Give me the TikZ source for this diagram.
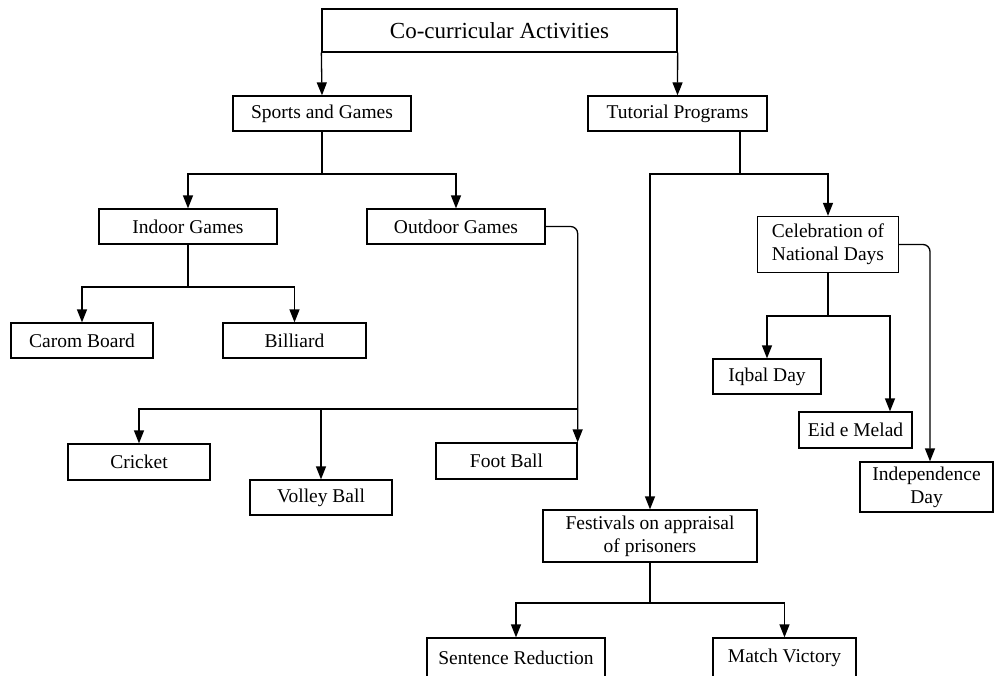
\documentclass[tikz,border=0pt]{standalone}
\usepackage{fontspec}
\setmainfont{Liberation Serif}
\usetikzlibrary{arrows.meta}
\begin{document}
\begin{tikzpicture}[x=1pt,y=-1pt,
  box/.style={draw,line width=1.3pt,inner sep=0pt,align=center,font=\fontsize{19.5}{23}\selectfont},
  arr/.style={line width=1.3pt,-{Triangle[length=13pt,width=10pt]}},
  ln/.style={line width=1.3pt}]
\clip (0,0) rectangle (995,675);
\fill[white] (0,0) rectangle (995,675);
% nodes
\node[box,minimum width=355pt,minimum height=43pt,font=\fontsize{23}{27}\selectfont] (ca) at (499.5,30.5) {Co-curricular Activities};
\node[box,minimum width=178pt,minimum height=35pt] (sg) at (322,113.5) {Sports and Games};
\node[box,minimum width=179pt,minimum height=35pt] (tp) at (677.5,113.5) {Tutorial Programs};
\node[box,minimum width=178pt,minimum height=35pt] (ig) at (188,226.5) {Indoor Games};
\node[box,minimum width=178pt,minimum height=35pt] (og) at (456,226.5) {Outdoor Games};
\node[box,minimum width=142pt,minimum height=35pt] (cb) at (82,340.5) {Carom Board};
\node[box,minimum width=143pt,minimum height=35pt] (bi) at (294.5,340.5) {Billiard};
\node[box,minimum width=142pt,minimum height=36pt] (cr) at (139,462) {Cricket};
\node[box,minimum width=142pt,minimum height=35pt] (vb) at (321,497.5) {Volley Ball};
\node[box,minimum width=141pt,minimum height=36pt] (fb) at (506.5,461) {Foot Ball};
\node[box,minimum width=141pt,minimum height=56pt] (cnd) at (828,244.5) {Celebration of\\National Days};
\node[box,minimum width=108pt,minimum height=35pt] (iq) at (767,376.5) {Iqbal Day};
\node[box,minimum width=113pt,minimum height=36pt] (em) at (855.5,430) {Eid e Melad};
\node[box,minimum width=133pt,minimum height=50pt] (id) at (926.5,487) {Independence\\Day};
\node[box,minimum width=214pt,minimum height=52pt] (fe) at (650,536) {Festivals on appraisal\\of prisoners};
\node[box,minimum width=178pt,minimum height=40pt] (sr) at (516,658) {Sentence Reduction};
\node[box,minimum width=143pt,minimum height=40pt] (mv) at (784.5,658) {Match Victory};
% junctions
\coordinate (j1) at (322,174);
\coordinate (j2) at (188,287);
\coordinate (j3) at (577,409);
\coordinate (j4) at (740,174);
\coordinate (j5) at (828,316);
\coordinate (j6) at (650,603);
% connectors
\draw[arr] (ca.south west) -- (sg.north);
\draw[arr] (ca.south east) -- (tp.north);
\draw[ln] (sg.south) -- (j1);
\draw[arr] (j1) -| (ig.north);
\draw[arr] (j1) -| (og.north);
\draw[ln] (ig.south) -- (j2);
\draw[arr] (j2) -| (cb.north);
\draw[arr] (j2) -| (bi.north);
\draw[arr,rounded corners=7pt] (og.east) -| (fb.north east);
\draw[arr] (j3) -| (cr.north);
\draw[arr] (vb.north |- j3) -- (vb.north);
\draw[ln] (tp.south -| j4) -- (j4);
\draw[arr] (j4) -| (fe.north);
\draw[arr] (j4) -| (cnd.north);
\draw[ln] (cnd.south) -- (j5);
\draw[arr] (j5) -| (iq.north);
\draw[arr] (j5) -| (em.north -| 890,0);
\draw[arr,rounded corners=7pt] (cnd.east) -| (id.north -| 930,0);
\draw[ln] (fe.south) -- (j6);
\draw[arr] (j6) -| (sr.north);
\draw[arr] (j6) -| (mv.north);
\end{tikzpicture}
\end{document}
